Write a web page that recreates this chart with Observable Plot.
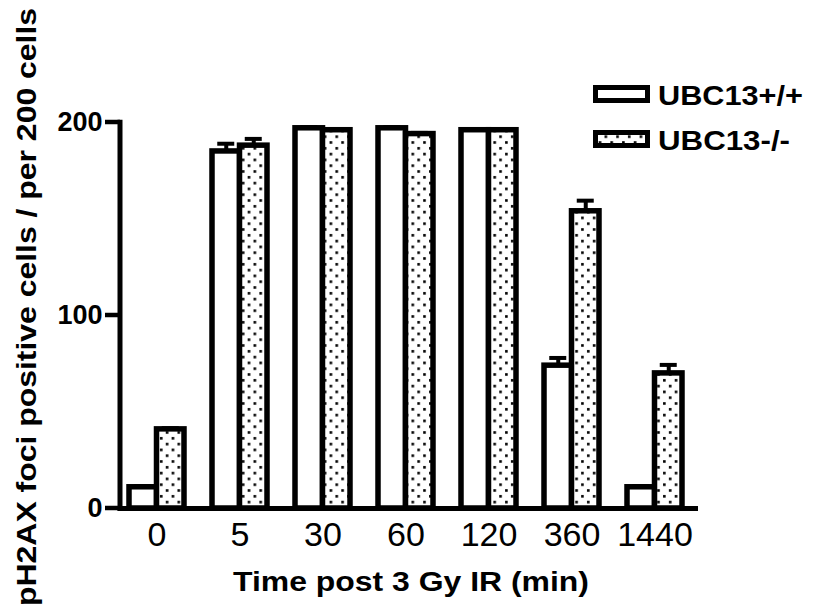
<!DOCTYPE html>
<html>
<head>
<meta charset="utf-8">
<script src="https://cdn.jsdelivr.net/npm/d3@7"></script>
<script src="https://cdn.jsdelivr.net/npm/@observablehq/plot@0.6"></script>
<style>
  html, body { margin: 0; padding: 0; background: #fff; }
  #chart { width: 813px; height: 614px; }
</style>
</head>
<body>
<div id="chart"></div>
<script>
// ---- data ----
const times = ["0", "5", "30", "60", "120", "360", "1440"];
const wtValues = [11, 185, 197, 197, 196, 74, 11];
const wtErrors = [0.6, 4, 0.6, 0.6, 0.6, 4, 0.6];
const koValues = [41, 188, 196, 194, 196, 154, 70];
const koErrors = [0.6, 3.5, 0.6, 0.6, 0.6, 5.5, 4.4];
const seriesNames = ["UBC13+/+", "UBC13-/-"];
const yTicks = [0, 100, 200];
const yTitle = "pH2AX foci positive cells / per 200 cells";
const xTitle = "Time post 3 Gy IR (min)";

const wt = times.map((t, i) => ({time: t, value: wtValues[i], err: wtErrors[i]}));
const ko = times.map((t, i) => ({time: t, value: koValues[i], err: koErrors[i]}));

const font = "'Liberation Sans', Arial, Helvetica, sans-serif";
const BW = 55;          // width of a pair of bars
const half = BW / 2;    // width of one bar
const q = half / 2;     // offset from pair centre to bar centre

function patternDefs() {
  const d = d3.create("svg:defs");
  const p = d.append("pattern").attr("id", "dots")
    .attr("patternUnits", "userSpaceOnUse").attr("width", 11.7).attr("height", 11.6);
  p.append("rect").attr("width", 11.7).attr("height", 11.6).attr("fill", "#fff");
  p.append("rect").attr("x", 2).attr("y", 2).attr("width", 2.6).attr("height", 2.6).attr("fill", "#000");
  p.append("rect").attr("x", 7.85).attr("y", 7.8).attr("width", 2.6).attr("height", 2.6).attr("fill", "#000");
  return d.node();
}

// y-axis spine and heavy tick marks, placed through the y scale
function spine(index, scales, values, dims) {
  const y = scales.y;
  const g = d3.create("svg:g").attr("stroke", "#000");
  g.append("line")
    .attr("x1", dims.marginLeft).attr("x2", dims.marginLeft)
    .attr("y1", y(yTicks[yTicks.length - 1]) - 2.25).attr("y2", y(0) + 2.5)
    .attr("stroke-width", 5);
  yTicks.forEach(t => {
    g.append("line")
      .attr("x1", dims.marginLeft - 15).attr("x2", dims.marginLeft)
      .attr("y1", y(t)).attr("y2", y(t))
      .attr("stroke-width", 4.5);
  });
  return g.node();
}

function decorations(index, scales, values, dims) {
  const g = d3.create("svg:g").attr("font-family", font).attr("font-weight", "bold").attr("fill", "#000");
  const midY = (dims.marginTop + dims.height - dims.marginBottom) / 2;
  const midX = (dims.marginLeft + dims.width - dims.marginRight) / 2;
  // y title
  g.append("text")
    .attr("transform", `translate(36,${midY - 8}) rotate(-90)`)
    .attr("text-anchor", "middle").attr("font-size", 28)
    .attr("textLength", 598).attr("lengthAdjust", "spacingAndGlyphs")
    .text(yTitle);
  // x title
  g.append("text")
    .attr("x", midX + 2).attr("y", 591)
    .attr("text-anchor", "middle").attr("font-size", 27)
    .attr("textLength", 356).attr("lengthAdjust", "spacingAndGlyphs")
    .text(xTitle);
  // legend
  const fills = ["#fff", "url(#dots)"];
  const lens = [145, 132];
  seriesNames.forEach((name, i) => {
    const top = 87.5 + i * 45;
    g.append("rect").attr("x", 595.5).attr("y", top).attr("width", 52).attr("height", 13)
      .attr("fill", fills[i]).attr("stroke", "#000").attr("stroke-width", 5);
    g.append("text").attr("x", 658).attr("y", top + 17).attr("font-size", 28)
      .attr("text-anchor", "start")
      .attr("textLength", lens[i]).attr("lengthAdjust", "spacingAndGlyphs")
      .text(name);
  });
  return g.node();
}

const chart = Plot.plot({
  width: 813,
  height: 614,
  marginLeft: 120,
  marginRight: 115,
  marginTop: 122,
  marginBottom: 106,
  style: {fontFamily: font, background: "#fff", color: "#000", overflow: "visible"},
  x: {type: "band", domain: times, range: [127.2, 684], paddingInner: 0.3424, paddingOuter: 0, align: 0.5},
  y: {domain: [0, 200], range: [508, 122]},
  marks: [
    patternDefs,
    Plot.barY(wt, {x: "time", y: "value", fill: "#fff", stroke: "#000", strokeWidth: 5.5, insetRight: half}),
    Plot.barY(ko, {x: "time", y: "value", fill: "url(#dots)", stroke: "#000", strokeWidth: 5.5, insetLeft: half}),
    Plot.ruleX(wt, {x: "time", y1: "value", y2: d => d.value + d.err, dx: -q, stroke: "#000", strokeWidth: 4}),
    Plot.tickY(wt, {x: "time", y: d => d.value + d.err, dx: -q, insetLeft: 19, insetRight: 19, stroke: "#000", strokeWidth: 4}),
    Plot.ruleX(ko, {x: "time", y1: "value", y2: d => d.value + d.err, dx: q, stroke: "#000", strokeWidth: 4}),
    Plot.tickY(ko, {x: "time", y: d => d.value + d.err, dx: q, insetLeft: 19, insetRight: 19, stroke: "#000", strokeWidth: 4}),
    Plot.ruleY([0], {stroke: "#000", strokeWidth: 5, insetLeft: -2.5}),
    spine,
    Plot.axisY({ticks: yTicks, tickSize: 0, tickPadding: 18, fontSize: 27, fontWeight: "bold", label: null}),
    Plot.axisX({tickSize: 0, tickPadding: 13, fontSize: 34, label: null}),
    decorations
  ]
});
document.getElementById("chart").appendChild(chart);
</script>
</body>
</html>
